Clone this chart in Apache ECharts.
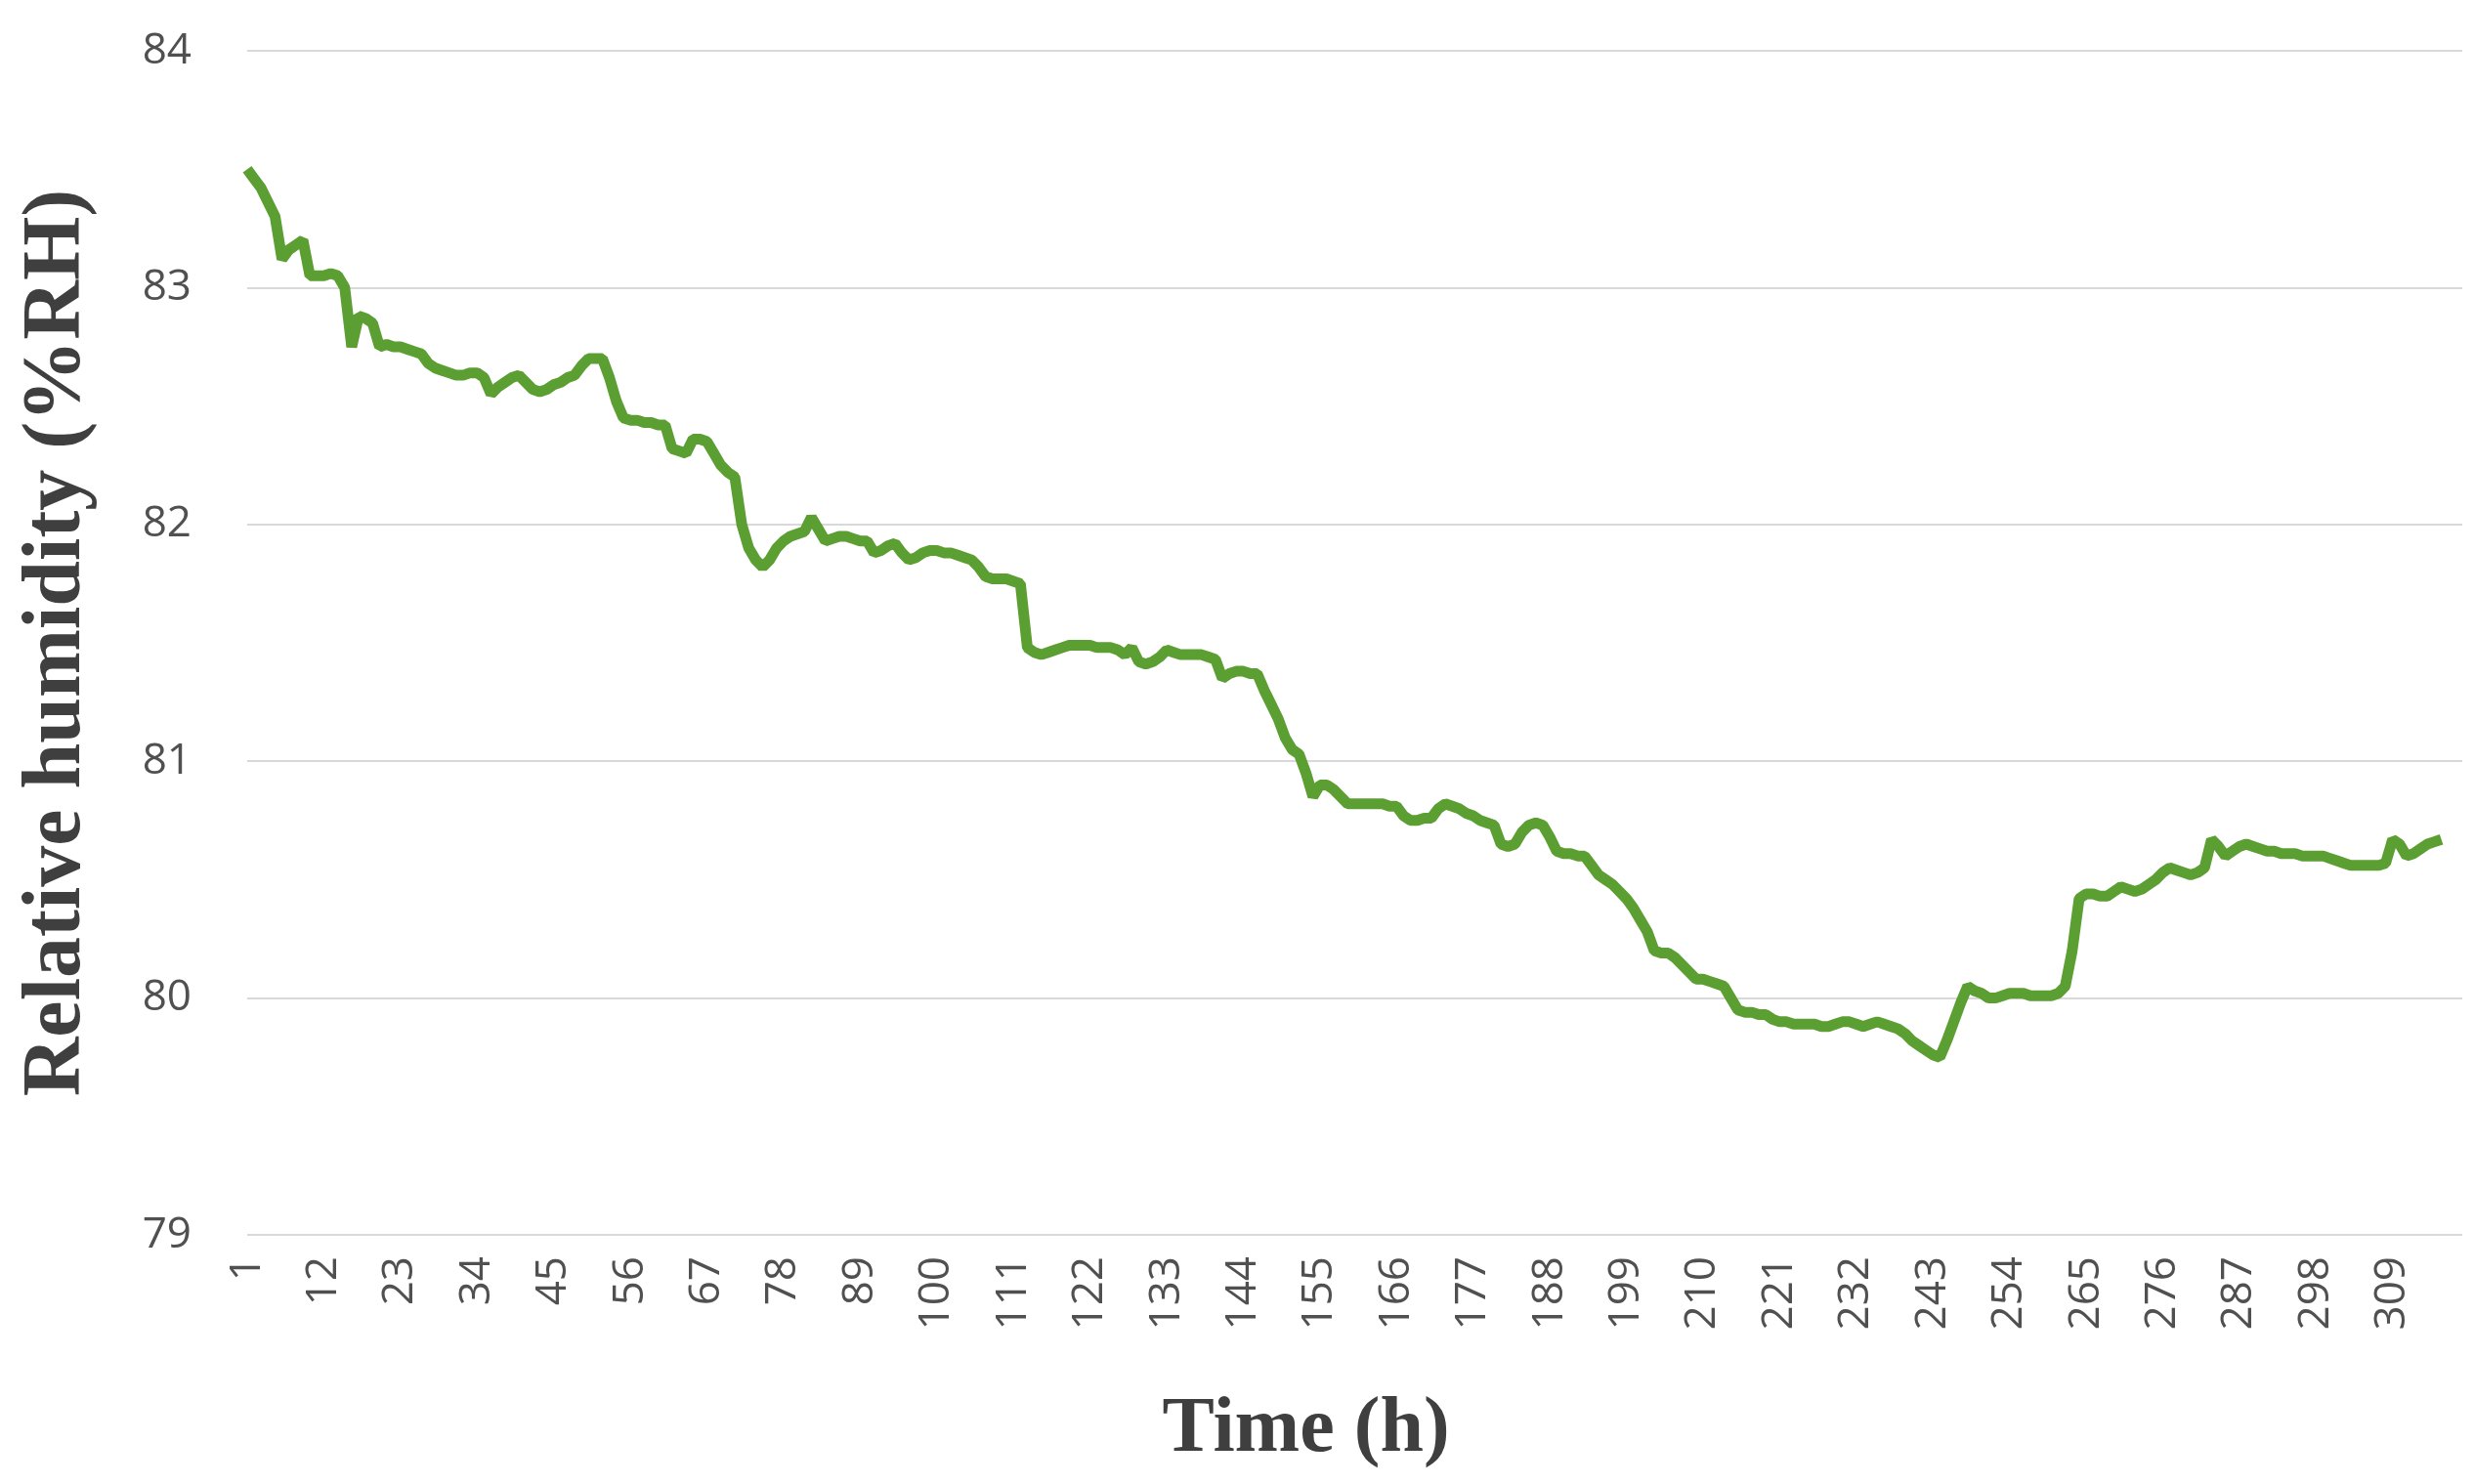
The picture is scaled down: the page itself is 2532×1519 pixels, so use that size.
<!DOCTYPE html>
<html><head><meta charset="utf-8">
<script src="https://cdn.jsdelivr.net/npm/echarts@6/dist/echarts.min.js"></script>
<style>html,body{margin:0;padding:0;background:#fff}#c{width:2532px;height:1519px}</style>
</head><body><div id="c"></div>
<script>
const humidity = [
83.50,83.46,83.42,83.36,83.30,83.12,83.16,83.18,83.20,83.05,
83.05,83.05,83.06,83.05,83.00,82.75,82.88,82.87,82.85,82.75,
82.76,82.75,82.75,82.74,82.73,82.72,82.68,82.66,82.65,82.64,
82.63,82.63,82.64,82.64,82.62,82.55,82.58,82.60,82.62,82.63,
82.60,82.57,82.56,82.57,82.59,82.60,82.62,82.63,82.67,82.70,
82.70,82.70,82.62,82.52,82.45,82.44,82.44,82.43,82.43,82.42,
82.42,82.32,82.31,82.30,82.36,82.36,82.35,82.30,82.25,82.22,
82.20,82.00,81.90,81.85,81.82,81.85,81.90,81.93,81.95,81.96,
81.97,82.03,81.98,81.93,81.94,81.95,81.95,81.94,81.93,81.93,
81.88,81.89,81.91,81.92,81.88,81.85,81.86,81.88,81.89,81.89,
81.88,81.88,81.87,81.86,81.85,81.82,81.78,81.77,81.77,81.77,
81.76,81.75,81.48,81.46,81.45,81.46,81.47,81.48,81.49,81.49,
81.49,81.49,81.48,81.48,81.48,81.47,81.45,81.48,81.42,81.41,
81.42,81.44,81.47,81.46,81.45,81.45,81.45,81.45,81.44,81.43,
81.35,81.37,81.38,81.38,81.37,81.37,81.30,81.24,81.18,81.10,
81.05,81.03,80.95,80.85,80.90,80.90,80.88,80.85,80.82,80.82,
80.82,80.82,80.82,80.82,80.81,80.81,80.77,80.75,80.75,80.76,
80.76,80.80,80.82,80.81,80.80,80.78,80.77,80.75,80.74,80.73,
80.65,80.64,80.65,80.70,80.73,80.74,80.73,80.68,80.62,80.61,
80.61,80.60,80.60,80.56,80.52,80.50,80.48,80.45,80.42,80.38,
80.33,80.28,80.20,80.19,80.19,80.17,80.14,80.11,80.08,80.08,
80.07,80.06,80.05,80.00,79.95,79.94,79.94,79.93,79.93,79.91,
79.90,79.90,79.89,79.89,79.89,79.89,79.88,79.88,79.89,79.90,
79.90,79.89,79.88,79.89,79.90,79.89,79.88,79.87,79.85,79.82,
79.80,79.78,79.76,79.75,79.82,79.90,79.98,80.05,80.03,80.02,
80.00,80.00,80.01,80.02,80.02,80.02,80.01,80.01,80.01,80.01,
80.02,80.05,80.20,80.42,80.44,80.44,80.43,80.43,80.45,80.47,
80.46,80.45,80.46,80.48,80.50,80.53,80.55,80.54,80.53,80.52,
80.53,80.55,80.67,80.64,80.60,80.62,80.64,80.65,80.64,80.63,
80.62,80.62,80.61,80.61,80.61,80.60,80.60,80.60,80.60,80.59,
80.58,80.57,80.56,80.56,80.56,80.56,80.56,80.57,80.67,80.65,
80.60,80.61,80.63,80.65,80.66,80.67
];
const categoryCount = 319;
const hours = [];
for (let i = 1; i <= categoryCount; i++) hours.push(String(i));
const yTicks = {min: 79, max: 84, interval: 1};

const chart = echarts.init(document.getElementById('c'));
chart.setOption({
  animation: false,
  grid: {left: 253, right: 12, top: 52, bottom: 1519 - 1264, outerBoundsMode: 'none', containLabel: false},
  xAxis: {
    type: 'category', data: hours, boundaryGap: false,
    name: 'Time (h)', nameLocation: 'middle', nameGap: 160,
    nameTextStyle: {fontFamily: 'Liberation Serif', fontWeight: 'bold', fontSize: 80, color: '#3f3f3f', padding: [0, 100, 0, 0]},
    axisLine: {show: false}, axisTick: {show: false}, splitLine: {show: false},
    axisLabel: {interval: 10, rotate: 90, margin: 22, fontFamily: 'Open Sans', fontSize: 44, color: '#505050'}
  },
  yAxis: {
    type: 'value', min: yTicks.min, max: yTicks.max, interval: yTicks.interval,
    name: 'Relative humidity (%RH)', nameLocation: 'middle', nameGap: 152, nameRotate: 90,
    nameTextStyle: {fontFamily: 'Liberation Serif', fontWeight: 'bold', fontSize: 84, color: '#3f3f3f'},
    axisLine: {show: false}, axisTick: {show: false},
    splitLine: {lineStyle: {color: '#d9d9d9', width: 2}},
    axisLabel: {margin: 57, fontFamily: 'Open Sans', fontSize: 44, color: '#505050'}
  },
  series: [{
    type: 'line', data: humidity, showSymbol: false,
    lineStyle: {color: '#5b9e31', width: 11}, itemStyle: {color: '#5b9e31'}
  }]
});
</script></body></html>
